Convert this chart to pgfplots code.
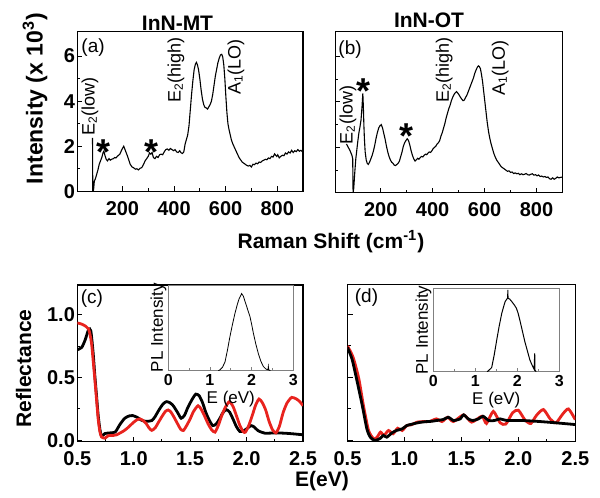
\documentclass[border=0pt]{standalone}
\usepackage{fontspec}
\setmainfont{Liberation Sans}
\setsansfont{Liberation Sans}
\usepackage{pgfplots}
\pgfplotsset{compat=1.18}
\definecolor{fitred}{HTML}{E8231E}

\pgfplotsset{
  panel/.style={scale only axis, anchor=north west,
    axis line style={line width=0.6pt}, tick style={line width=0.5pt, black},
    major tick length=2.5pt, minor tick length=1.5pt, tick pos=left,
    /pgf/number format/assume math mode=true,
    tick label style={font=\fontsize{10}{12}\selectfont\bfseries},
    yticklabel style={inner xsep=1pt}, xticklabel style={yshift=-1.5pt}},
  ramanax/.style={panel, xmin=25, xmax=900, ymin=0, ymax=7.1,
    xtick={200,400,600,800}, ytick={0,2,4,6}, minor x tick num=1, minor y tick num=1},
  reflax/.style={panel, xmin=0.5, xmax=2.5, ymin=-0.01, ymax=1.235,
    xtick={0.5,1,1.5,2,2.5}, ytick={0,0.5,1}, minor x tick num=1, minor y tick num=1,
    ticklabel style={/pgf/number format/fixed, /pgf/number format/fixed zerofill,
      /pgf/number format/precision=1}},
  inset/.style={scale only axis, anchor=north west, xmin=0, xmax=3, ymin=0, ymax=1,
    axis background/.style={fill=white},
    axis line style={line width=0.4pt, gray}, tick style={line width=0.4pt, gray},
    xtick={0,1,2,3}, minor x tick num=1, ytick=\empty, tick pos=left,
    major tick length=2pt, minor tick length=1.2pt,
    /pgf/number format/assume math mode=true,
    xticklabel style={font=\fontsize{8}{9}\selectfont\bfseries, inner sep=1.5pt},
    xlabel={E (eV)}, ylabel={PL Intensity},
    label style={font=\fontsize{8.5}{10}\selectfont},
    xlabel style={at={(axis description cs:0.5,-0.335)}, anchor=center, inner sep=0pt},
    ylabel style={at={(axis description cs:-0.078,0.5)}, anchor=center}}
}
\tikzset{
  anno/.style={font=\fontsize{9}{10}\selectfont, inner sep=0pt},
  star/.style={font=\fontsize{18}{18}\selectfont\bfseries, inner sep=0pt, anchor=north},
  letter/.style={font=\fontsize{9.5}{11}\selectfont, inner sep=0pt}
}

\begin{document}
\begin{tikzpicture}
\useasboundingbox (0pt,0pt) rectangle (300pt,-249pt);

% (a) InN-MT Raman
\begin{axis}[ramanax, at={(38.65pt,-15.65pt)}, width=112.85pt, height=80pt]
\addplot[black, line width=0.55pt] coordinates {
(84,2.37) (85,0) (88,0.05) (91,0.45) (95,0.55) (100,0.75) (105,0.95) (110,1.2) (115,1.35)
(120,1.5) (125,1.72) (128,1.78) (132,1.6) (137,1.42) (142,1.35) (148,1.45) (153,1.38)
(158,1.42) (165,1.45) (170,1.5) (175,1.48) (180,1.55) (185,1.6) (190,1.65) (195,1.78)
(200,1.9) (205,2.0) (210,1.85) (215,1.7) (220,1.55) (225,1.38) (230,1.2) (237,1.08)
(243,1.05) (250,0.98) (256,1.0) (262,0.95) (268,1.02) (275,1.05) (282,1.2) (288,1.35)
(294,1.45) (300,1.55) (305,1.7) (310,1.65) (315,1.72) (320,1.5) (326,1.45) (332,1.55)
(338,1.5) (344,1.62) (350,1.65) (356,1.62) (362,1.75) (368,1.85) (374,1.88) (380,1.82)
(386,1.9) (392,1.85) (398,1.8) (404,1.85) (410,1.75) (416,1.72) (422,1.8) (428,1.7)
(433,1.68) (438,1.75) (443,2.1) (448,2.3) (453,2.5) (458,2.9) (463,3.6) (468,4.3)
(473,4.9) (478,5.4) (483,5.65) (487,5.72) (491,5.6) (495,5.4) (500,5.0) (505,4.5)
(510,4.1) (515,3.85) (520,3.72) (525,3.7) (530,3.65) (535,3.75) (540,3.85) (545,4.0)
(550,4.3) (555,4.7) (560,5.1) (565,5.4) (570,5.7) (575,5.9) (580,6.05) (585,6.08)
(589,5.95) (593,5.6) (597,5.0) (601,4.2) (605,3.5) (609,3.0) (613,2.75) (617,2.55)
(622,2.3) (628,2.1) (634,1.95) (640,1.8) (646,1.65) (652,1.5) (658,1.4) (664,1.3)
(670,1.25) (676,1.2) (682,1.15) (688,1.12) (694,1.15) (700,1.08) (706,1.2) (712,1.18)
(718,1.25) (724,1.22) (730,1.3) (736,1.28) (742,1.35) (748,1.38) (754,1.42) (760,1.4)
(766,1.48) (772,1.45) (778,1.55) (784,1.52) (790,1.66) (794,1.6) (798,1.55) (802,1.62)
(808,1.48) (814,1.55) (820,1.6) (826,1.58) (832,1.7) (838,1.65) (844,1.75) (850,1.7)
(856,1.82) (862,1.72) (868,1.8) (874,1.76) (880,1.85) (886,1.78) (892,1.82) (898,1.75)
(900,1.8)};
\node[letter] at (axis cs:86,6.36) {(a)};
\node[anno, rotate=90] at (axis cs:74,3.76) {E\textsubscript{2}(low)};
\node[anno, rotate=90] at (axis cs:408,5.38) {E\textsubscript{2}(high)};
\node[anno, rotate=90] at (axis cs:640,5.51) {A\textsubscript{1}(LO)};
\node[star] at (axis cs:127,2.29) {*};
\node[star] at (axis cs:311,2.29) {*};
\end{axis}

% (b) InN-OT Raman
\begin{axis}[ramanax, at={(167.65pt,-15.65pt)}, width=113.6pt, height=80.8pt, yticklabels={}]
\addplot[black, line width=0.55pt] coordinates {
(68,2.15) (75,2.0) (82,1.85) (89,1.65) (92,1.5) (93.5,0) (96,0.2) (100,0.9) (104,1.5)
(108,1.9) (112,2.3) (116,2.65) (120,2.9) (124,3.2) (128,3.8) (131,4.37) (133,3.8)
(135,3.0) (137,2.4) (140,1.8) (144,1.45) (148,1.3) (152,1.25) (157,1.35) (162,1.5)
(167,1.65) (172,1.85) (177,2.1) (182,2.4) (187,2.65) (192,2.85) (197,2.95) (202,3.0)
(207,2.85) (212,2.6) (217,2.35) (222,2.05) (227,1.8) (232,1.6) (237,1.45) (242,1.35)
(247,1.3) (252,1.22) (257,1.2) (262,1.25) (267,1.3) (272,1.4) (277,1.6) (282,1.8)
(287,2.05) (292,2.2) (297,2.3) (302,2.38) (307,2.3) (312,2.1) (317,1.85) (322,1.65)
(327,1.5) (332,1.4) (337,1.45) (342,1.52) (347,1.48) (352,1.55) (357,1.6) (362,1.58)
(367,1.65) (372,1.7) (377,1.68) (382,1.75) (387,1.8) (392,1.78) (397,1.85) (402,1.95)
(407,2.0) (412,2.05) (417,2.15) (422,2.2) (427,2.3) (432,2.5) (437,2.65) (442,2.85)
(447,3.05) (452,3.3) (457,3.5) (462,3.7) (467,3.85) (472,4.05) (477,4.2) (482,4.32)
(487,4.4) (492,4.45) (497,4.38) (502,4.3) (507,4.2) (512,4.12) (517,4.05) (522,4.08)
(527,4.2) (532,4.3) (537,4.45) (542,4.6) (547,4.75) (552,4.9) (557,5.05) (562,5.25)
(567,5.4) (572,5.52) (576,5.58) (580,5.55) (584,5.45) (588,5.2) (592,4.9) (596,4.5)
(600,4.1) (605,3.6) (610,3.1) (615,2.7) (620,2.4) (625,2.15) (630,1.95) (635,1.75)
(640,1.6) (646,1.45) (652,1.35) (658,1.25) (664,1.15) (670,1.1) (676,1.05) (682,1.0)
(688,0.95) (694,0.97) (700,0.9) (706,0.92) (712,0.85) (718,0.88) (724,0.84) (730,0.86)
(736,0.8) (742,0.84) (748,0.8) (754,0.82) (760,0.85) (766,0.8) (772,0.78) (778,0.82)
(784,0.84) (790,0.78) (796,0.8) (802,0.75) (808,0.79) (814,0.72) (820,0.74) (826,0.7)
(832,0.72) (838,0.68) (844,0.7) (850,0.62) (856,0.6) (862,0.66) (868,0.6) (874,0.64)
(880,0.7) (886,0.66) (892,0.68) (900,0.7)};
\node[letter] at (axis cs:82,6.28) {(b)};
\node[anno, rotate=90] at (axis cs:74,3.43) {E\textsubscript{2}(low)};
\node[anno, rotate=90] at (axis cs:444,5.4) {E\textsubscript{2}(high)};
\node[anno, rotate=90] at (axis cs:660,5.49) {A\textsubscript{1}(LO)};
\node[star] at (axis cs:132,5.05) {*};
\node[star] at (axis cs:301,3.07) {*};
\end{axis}

% (c) InN-MT reflectance
\begin{axis}[reflax, at={(38.65pt,-142.5pt)}, width=112.85pt, height=78.35pt]
\addplot[black, line width=1.4pt, smooth, tension=0.4] coordinates {
(0.50,0.72) (0.54,0.74) (0.57,0.80) (0.60,0.88) (0.62,0.87) (0.64,0.70) (0.655,0.52)
(0.67,0.36) (0.685,0.20) (0.70,0.09) (0.715,0.035) (0.745,0.055) (0.79,0.06) (0.835,0.066)
(0.86,0.10) (0.88,0.13) (0.92,0.176) (0.96,0.195) (0.99,0.198) (1.03,0.184) (1.07,0.16)
(1.11,0.152) (1.16,0.158) (1.19,0.19) (1.22,0.237) (1.26,0.29) (1.29,0.308) (1.32,0.30)
(1.35,0.276) (1.39,0.22) (1.42,0.176) (1.45,0.20) (1.48,0.263) (1.52,0.33) (1.55,0.368)
(1.58,0.355) (1.61,0.30) (1.64,0.22) (1.67,0.16) (1.70,0.118) (1.73,0.13) (1.76,0.17)
(1.79,0.22) (1.82,0.245) (1.85,0.225) (1.88,0.17) (1.91,0.11) (1.94,0.071) (1.97,0.075)
(2.00,0.092) (2.04,0.118) (2.07,0.105) (2.10,0.079) (2.16,0.058) (2.27,0.06) (2.38,0.055)
(2.50,0.045)};
\addplot[fitred, line width=1.4pt, smooth, tension=0.4] coordinates {
(0.50,0.934) (0.55,0.92) (0.60,0.885) (0.625,0.78) (0.64,0.64) (0.655,0.49) (0.67,0.33)
(0.685,0.17) (0.70,0.07) (0.715,0.028) (0.745,0.018) (0.775,0.038) (0.82,0.04) (0.85,0.045)
(0.88,0.06) (0.91,0.075) (0.94,0.095) (0.97,0.12) (1.00,0.145) (1.03,0.165) (1.055,0.171)
(1.08,0.16) (1.11,0.135) (1.135,0.10) (1.16,0.08) (1.19,0.10) (1.22,0.145) (1.25,0.19)
(1.28,0.23) (1.305,0.242) (1.33,0.225) (1.36,0.18) (1.39,0.13) (1.415,0.09) (1.44,0.079)
(1.47,0.12) (1.50,0.171) (1.53,0.23) (1.57,0.276) (1.60,0.245) (1.63,0.19) (1.66,0.13)
(1.69,0.085) (1.72,0.066) (1.75,0.12) (1.78,0.197) (1.81,0.26) (1.847,0.308) (1.88,0.27)
(1.91,0.197) (1.94,0.12) (1.97,0.07) (1.99,0.066) (2.02,0.12) (2.05,0.197) (2.08,0.28)
(2.11,0.329) (2.14,0.30) (2.17,0.24) (2.20,0.15) (2.23,0.085) (2.26,0.06) (2.29,0.11)
(2.325,0.224) (2.36,0.30) (2.40,0.342) (2.44,0.33) (2.47,0.31) (2.50,0.276)};
\node[letter] at (axis cs:0.63,1.13) {(c)};
\end{axis}

% (d) InN-OT reflectance
\begin{axis}[reflax, at={(173.75pt,-142.4pt)}, width=113.9pt, height=78.45pt, yticklabels={}]
\addplot[fitred, line width=1.4pt, smooth, tension=0.4] coordinates {
(0.50,0.75) (0.55,0.658) (0.60,0.487) (0.64,0.276) (0.685,0.079) (0.73,0.013) (0.76,0.026)
(0.79,0.066) (0.82,0.04) (0.86,0.079) (0.90,0.053) (0.94,0.097) (0.98,0.079) (1.02,0.118)
(1.06,0.124) (1.11,0.145) (1.17,0.15) (1.22,0.15) (1.28,0.171) (1.33,0.15) (1.38,0.184)
(1.43,0.15) (1.52,0.203) (1.59,0.145) (1.68,0.192) (1.72,0.135) (1.78,0.23) (1.84,0.14)
(1.89,0.13) (1.95,0.22) (2.00,0.24) (2.06,0.16) (2.11,0.135) (2.16,0.2) (2.22,0.245)
(2.28,0.17) (2.33,0.14) (2.39,0.21) (2.44,0.25) (2.50,0.165)};
\addplot[black, line width=1.4pt, smooth, tension=0.4] coordinates {
(0.50,0.737) (0.54,0.645) (0.58,0.487) (0.63,0.276) (0.67,0.092) (0.70,0.026) (0.74,0.0)
(0.79,0.018) (0.815,0.04) (0.845,0.026) (0.89,0.06) (0.93,0.079) (0.98,0.092) (1.02,0.118)
(1.06,0.128) (1.11,0.139) (1.15,0.145) (1.20,0.15) (1.24,0.152) (1.28,0.158) (1.34,0.166)
(1.385,0.184) (1.43,0.158) (1.47,0.165) (1.49,0.171) (1.52,0.203) (1.56,0.171) (1.60,0.158)
(1.65,0.171) (1.69,0.192) (1.74,0.158) (1.79,0.158) (1.84,0.171) (1.90,0.158) (2.04,0.158)
(2.19,0.15) (2.34,0.139) (2.50,0.126)};
\node[letter] at (axis cs:0.667,1.13) {(d)};
\end{axis}

% insets: PL spectra
\begin{axis}[inset, at={(84.1pt,-142.5pt)}, width=62.6pt, height=42.85pt]
\addplot[black, line width=0.4pt] coordinates {
(1.20,0) (1.24,0.01) (1.30,0.04) (1.36,0.10) (1.42,0.24) (1.48,0.40) (1.54,0.54) (1.60,0.67)
(1.66,0.78) (1.70,0.84) (1.76,0.90) (1.80,0.87) (1.84,0.81) (1.90,0.72) (1.96,0.63)
(2.00,0.54) (2.04,0.44) (2.10,0.31) (2.16,0.20) (2.22,0.11) (2.28,0.05) (2.34,0.02)
(2.39,0.01) (2.40,0.05) (2.41,0.01) (2.45,0)};
\end{axis}
\begin{axis}[inset, at={(216.65pt,-144.15pt)}, width=63pt, height=41.7pt]
\addplot[black, line width=0.5pt] coordinates {
(1.28,0) (1.31,0.01) (1.39,0.05) (1.45,0.2) (1.51,0.38) (1.57,0.55) (1.63,0.70) (1.68,0.79)
(1.71,0.84) (1.75,0.87) (1.77,0.88) (1.775,0.98) (1.78,0.88) (1.82,0.87) (1.87,0.84)
(1.93,0.8) (1.98,0.76) (2.02,0.70) (2.06,0.62) (2.12,0.49) (2.18,0.36) (2.24,0.25)
(2.30,0.14) (2.36,0.07) (2.40,0.03) (2.415,0.22) (2.42,0.02) (2.45,0)};
\end{axis}

% shared titles and axis labels
\node[font=\fontsize{10.5}{12}\selectfont\bfseries] at (88.75pt,-11.4pt) {InN-MT};
\node[font=\fontsize{10.5}{12}\selectfont\bfseries] at (214.5pt,-10.3pt) {InN-OT};
\node[font=\fontsize{11.5}{13}\selectfont\bfseries, rotate=90] at (17.5pt,-49.25pt) {Intensity (x 10\textsuperscript{3})};
\node[font=\fontsize{10.5}{12}\selectfont\bfseries, rotate=90] at (11.75pt,-184.25pt) {Reflectance};
\node[font=\fontsize{10.5}{12}\selectfont\bfseries, anchor=base] at (165.5pt,-124pt) {Raman Shift (cm\textsuperscript{-1})};
\node[font=\fontsize{10.5}{12}\selectfont\bfseries] at (161pt,-240.5pt) {E(eV)};
\end{tikzpicture}
\end{document}
